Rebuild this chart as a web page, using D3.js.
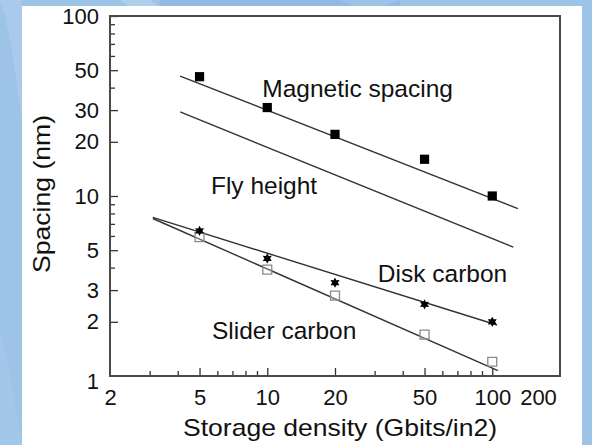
<!DOCTYPE html>
<html>
<head>
<meta charset="utf-8">
<script src="https://cdn.jsdelivr.net/npm/d3@7"></script>
<style>
  html, body { margin: 0; padding: 0; background: #9cc2e6; }
  svg { display: block; }
  text { font-family: Arial, "Liberation Sans", Helvetica, sans-serif; fill: #111; }
</style>
</head>
<body>
<svg id="chart" width="592" height="445"></svg>
<script>
// Storage density (Gbit/in²) at which each spacing was measured
const density = [5, 10, 20, 50, 100];
// Measured spacings (nm)
const magneticSpacing = [46, 31, 22, 16, 10];
const diskCarbon = [6.4, 4.5, 3.3, 2.5, 2.0];
const sliderCarbon = [5.9, 3.9, 2.8, 1.7, 1.2];
// Power-law trend lines, as [density, spacing] end points
const magneticFit = [[4.1, 46.4], [130, 8.5]];
const flyHeightFit = [[4.1, 29.3], [124, 5.2]];
const diskFit = [[3.1, 7.6], [105, 1.92]];
const sliderFit = [[3.1, 7.5], [106, 1.07]];
// Axis ticks
const xMajor = [2, 5, 10, 20, 50, 100, 200];
const xMinor = [3, 4, 6, 7, 8, 9, 30, 40, 60, 70, 80, 90];
const yMajor = [1, 2, 3, 5, 10, 20, 30, 50, 100];
const yMinor = [4, 6, 7, 8, 9, 40, 60, 70, 80, 90];
// Curve labels, placed at [density, spacing] of their baseline start
const curveLabels = ["Magnetic spacing", "Fly height", "Disk carbon", "Slider carbon"];
const labelAnchors = [[9.5, 35.5], [5.62, 10.3], [31, 3.33], [5.68, 1.6]];

const svg = d3.select("#chart");
const W = 592, H = 445;

// Backdrop: blue slide with soft lighter swooshes
const bg = svg.append("g");
bg.append("rect").attr("width", W).attr("height", H).attr("fill", "#9dc3e7");
bg.append("path")
  .attr("d", "M120,0 C150,20 170,60 180,120 L230,120 C215,60 180,20 150,0 Z")
  .attr("fill", "#b3d1ee").attr("opacity", 0.8);
bg.append("path")
  .attr("d", "M160,0 L340,0 C360,10 380,10 400,0 L400,12 L160,12 Z")
  .attr("fill", "#8fb9e2").attr("opacity", 0.9);
bg.append("path")
  .attr("d", "M0,0 C10,30 15,70 22,120 L22,0 Z")
  .attr("fill", "#aecdec").attr("opacity", 0.7);
bg.append("path")
  .attr("d", "M0,330 C8,360 14,400 22,445 L0,445 Z")
  .attr("fill", "#a7c9ea").attr("opacity", 0.6);

// White panel
svg.append("rect").attr("x", 22).attr("y", 6).attr("width", 560).attr("height", 439).attr("fill", "#ffffff");

const x = d3.scaleLog().domain([2, 200]).range([110, 560]);
const y = d3.scaleLog().domain([1, 100]).range([376, 16]);

const fmt = d => String(d);

// X axis: labelled major ticks and unlabelled minor ticks, pointing inward
const xAxisMajor = d3.axisBottom(x).tickValues(xMajor).tickFormat(fmt).tickSizeInner(-8).tickSizeOuter(0).tickPadding(13);
const gx = svg.append("g").attr("transform", "translate(0,376)").call(xAxisMajor);
gx.select(".domain").remove();
gx.selectAll("text").attr("font-size", 22).attr("dy", "0.71em").style("fill", "#111");
gx.selectAll("line").attr("stroke", "#333").attr("stroke-width", 1.3);
// ticks at the ends sit on the frame
gx.selectAll(".tick").filter(d => d === 2 || d === 200).select("line").remove();
// last label kept inside the panel
gx.selectAll(".tick").filter(d => d === 200).select("text").attr("dx", -22);

const gxm = svg.append("g").attr("transform", "translate(0,376)")
  .call(d3.axisBottom(x).tickValues(xMinor).tickFormat("").tickSizeInner(-5).tickSizeOuter(0));
gxm.select(".domain").remove();
gxm.selectAll("line").attr("stroke", "#333").attr("stroke-width", 1.3);

// Y axis
const yAxisMajor = d3.axisLeft(y).tickValues(yMajor).tickFormat(fmt).tickSizeInner(-8).tickSizeOuter(0).tickPadding(11);
const gy = svg.append("g").attr("transform", "translate(110,0)").call(yAxisMajor);
gy.select(".domain").remove();
gy.selectAll("text").attr("font-size", 22).style("fill", "#111");
gy.selectAll("line").attr("stroke", "#333").attr("stroke-width", 1.3);
gy.selectAll(".tick").filter(d => d === 1).select("line").remove();
gy.selectAll(".tick").filter(d => d === 1).select("text").attr("dy", "0.55em");

const gym = svg.append("g").attr("transform", "translate(110,0)")
  .call(d3.axisLeft(y).tickValues(yMinor).tickFormat("").tickSizeInner(-5).tickSizeOuter(0));
gym.select(".domain").remove();
gym.selectAll("line").attr("stroke", "#333").attr("stroke-width", 1.3);

// Frame
svg.append("rect")
  .attr("x", x(2)).attr("y", y(100))
  .attr("width", x(200) - x(2)).attr("height", y(1) - y(100))
  .attr("fill", "none").attr("stroke", "#4a4a4a").attr("stroke-width", 2);

// Axis titles
svg.append("text")
  .attr("x", 340).attr("y", 436)
  .attr("text-anchor", "middle").attr("font-size", 24)
  .attr("textLength", 314).attr("lengthAdjust", "spacingAndGlyphs")
  .text("Storage density (Gbits/in2)");
svg.append("text")
  .attr("transform", "translate(50,194) rotate(-90)")
  .attr("text-anchor", "middle").attr("font-size", 24)
  .attr("textLength", 158).attr("lengthAdjust", "spacingAndGlyphs")
  .text("Spacing (nm)");

// Trend lines
const line = d3.line().x(d => x(d[0])).y(d => y(d[1]));
[magneticFit, flyHeightFit, diskFit, sliderFit].forEach(seg => {
  svg.append("path").attr("d", line(seg))
    .attr("fill", "none").attr("stroke", "#333").attr("stroke-width", 1.4);
});

// Six-pointed star marker
const star6 = {
  draw(ctx, size) {
    const r = Math.sqrt(size) * 0.62, ri = r * 0.55;
    for (let i = 0; i < 12; i++) {
      const a = Math.PI / 6 * i - Math.PI / 2;
      const rr = i % 2 ? ri : r;
      const px = rr * Math.cos(a), py = rr * Math.sin(a);
      if (i === 0) ctx.moveTo(px, py); else ctx.lineTo(px, py);
    }
    ctx.closePath();
  }
};

// Slider carbon: open grey squares
svg.append("g").selectAll("path").data(density.map((d, i) => [d, sliderCarbon[i]])).join("path")
  .attr("transform", d => `translate(${x(d[0])},${y(d[1])})`)
  .attr("d", d3.symbol(d3.symbolSquare, 80)())
  .attr("fill", "#ffffff").attr("fill-opacity", 0.3)
  .attr("stroke", "#8a8a8a").attr("stroke-width", 1.3);

// Magnetic spacing: filled squares
svg.append("g").selectAll("path").data(density.map((d, i) => [d, magneticSpacing[i]])).join("path")
  .attr("transform", d => `translate(${x(d[0])},${y(d[1])})`)
  .attr("d", d3.symbol(d3.symbolSquare, 85)())
  .attr("fill", "#000");

// Disk carbon: filled stars
svg.append("g").selectAll("path").data(density.map((d, i) => [d, diskCarbon[i]])).join("path")
  .attr("transform", d => `translate(${x(d[0])},${y(d[1])})`)
  .attr("d", d3.symbol(star6, 70)())
  .attr("fill", "#000");

// Curve labels
svg.append("g").selectAll("text").data(curveLabels).join("text")
  .attr("x", (d, i) => x(labelAnchors[i][0]))
  .attr("y", (d, i) => y(labelAnchors[i][1]))
  .attr("font-size", 24.5)
  .text(d => d);
</script>
</body>
</html>
